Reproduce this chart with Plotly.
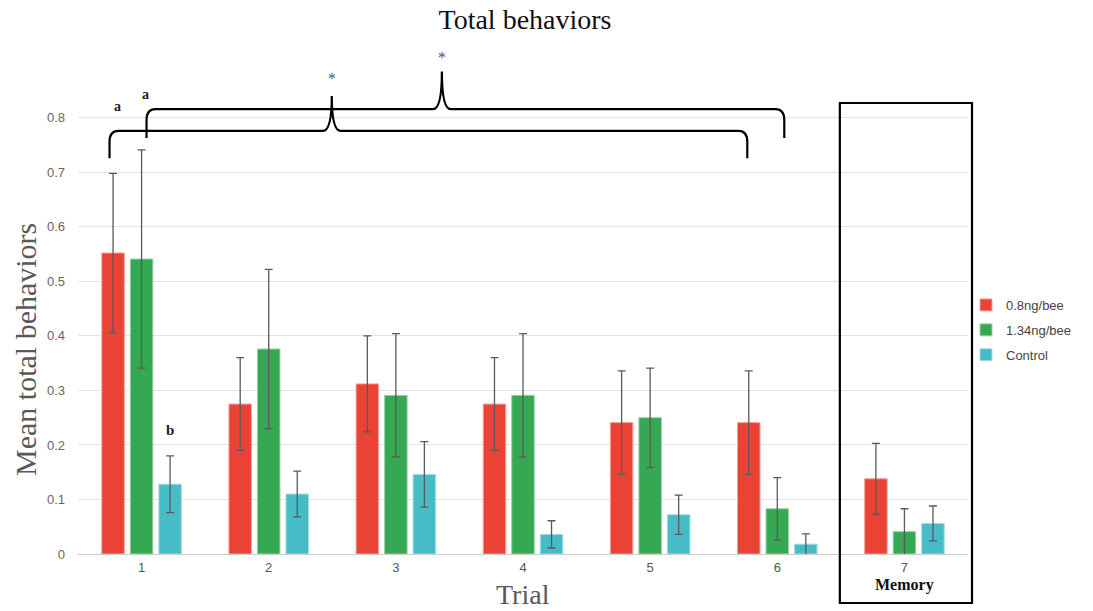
import plotly.graph_objects as go

trials = [1, 2, 3, 4, 5, 6, 7]
tick_labels = ["1", "2", "3", "4", "5", "6", "7"]
series_names = ["0.8ng/bee", "1.34ng/bee", "Control"]

low_dose = [0.552, 0.275, 0.312, 0.275, 0.241, 0.241, 0.138]
low_dose_err = [0.146, 0.085, 0.088, 0.085, 0.095, 0.095, 0.065]
high_dose = [0.541, 0.376, 0.291, 0.291, 0.250, 0.083, 0.041]
high_dose_err = [0.200, 0.146, 0.113, 0.113, 0.091, 0.057, 0.042]
control = [0.128, 0.110, 0.146, 0.036, 0.072, 0.018, 0.056]
control_err = [0.052, 0.042, 0.060, 0.025, 0.036, 0.019, 0.032]

colors = ["#EA4335", "#34A853", "#46BDC6"]
edge_colors = ["#F4A39B", "#9AD4A9", "#A3DEE3"]

SERIF = "Liberation Serif, Times New Roman, serif"
SANS = "Liberation Sans, Arial, sans-serif"

fig = go.Figure()
for i, (name, vals, errs) in enumerate(zip(series_names,
                                           [low_dose, high_dose, control],
                                           [low_dose_err, high_dose_err, control_err])):
    fig.add_trace(go.Bar(
        x=trials, y=vals, name=name, legendgroup=name,
        marker=dict(color=colors[i], line=dict(color=edge_colors[i], width=1)),
        error_y=dict(type="data", array=errs, visible=True,
                     color="#5a5a5a", thickness=1.3, width=4),
    ))


def brace(x0, x1, xp, y_end, y_h, y_peak, rx=0.07, ry=0.02):
    return (f"M {x0},{y_end} L {x0},{y_h - ry} "
            f"Q {x0},{y_h} {x0 + rx},{y_h} "
            f"L {xp - rx},{y_h} Q {xp},{y_h} {xp},{y_peak} "
            f"Q {xp},{y_h} {xp + rx},{y_h} "
            f"L {x1 - rx},{y_h} Q {x1},{y_h} {x1},{y_h - ry} "
            f"L {x1},{y_end}")


shapes = [
    dict(type="path", xref="x", yref="y",
         path=brace(0.748, 5.764, 2.496, 0.726, 0.776, 0.840),
         line=dict(color="black", width=2.2)),
    dict(type="path", xref="x", yref="y",
         path=brace(1.039, 6.055, 3.362, 0.763, 0.816, 0.885),
         line=dict(color="black", width=2.2)),
    dict(type="rect", xref="paper", yref="paper",
         x0=0.856, x1=1.0045, y0=-0.0946, y1=0.8707,
         line=dict(color="black", width=2.2)),
]

annotations = [
    dict(x=0.81, y=0.821, xref="x", yref="y", text="<b>a</b>", showarrow=False,
         font=dict(family=SERIF, size=14, color="#222")),
    dict(x=1.03, y=0.842, xref="x", yref="y", text="<b>a</b>", showarrow=False,
         font=dict(family=SERIF, size=14, color="#222")),
    dict(x=1.22, y=0.228, xref="x", yref="y", text="<b>b</b>", showarrow=False,
         font=dict(family=SERIF, size=15, color="#222")),
    dict(x=2.496, y=0.872, xref="x", yref="y", text="*", showarrow=False,
         font=dict(family=SERIF, size=16, color="#555")),
    dict(x=3.362, y=0.911, xref="x", yref="y", text="*", showarrow=False,
         font=dict(family=SERIF, size=16, color="#555")),
    dict(x=7, y=-0.0598, xref="x", yref="paper", text="<b>Memory</b>", showarrow=False,
         yanchor="middle", font=dict(family=SERIF, size=16, color="#111")),
    # axis titles
    dict(x=523 / 1093, y=1 - 594 / 611, xref="paper", yref="paper", text="Trial",
         showarrow=False, xanchor="center", yanchor="middle",
         font=dict(family=SERIF, size=28, color="#595959")),
    dict(x=25 / 1093, y=1 - 350 / 611, xref="paper", yref="paper",
         text="Mean total behaviors", textangle=-90,
         showarrow=False, xanchor="center", yanchor="middle",
         font=dict(family=SERIF, size=30, color="#595959")),
]
# convert container-based positions of the axis titles to paper coords
L, R, T, B, W, H = 78, 125, 36, 57, 1093, 611
for a in annotations[-2:]:
    px = a["x"] * W
    py = (1 - a["y"]) * H
    a["x"] = (px - L) / (W - L - R)
    a["y"] = (H - B - py) / (H - T - B)

fig.update_layout(
    width=W, height=H,
    margin=dict(l=L, r=R, t=T, b=B, autoexpand=False),
    paper_bgcolor="white", plot_bgcolor="white",
    barmode="group", bargap=0.327, bargroupgap=0.21,
    title=dict(text="Total behaviors", x=525 / W, xanchor="center",
               y=1 - 19 / H, yanchor="middle", xref="container", yref="container",
               font=dict(family=SERIF, size=28, color="#111")),
    xaxis=dict(range=[0.5, 7.5], tickmode="array", tickvals=trials, ticktext=tick_labels,
               showgrid=False, zeroline=False, showline=False, ticks="",
               ticklabelstandoff=4,
               tickfont=dict(family=SANS, size=13, color="#555")),
    yaxis=dict(range=[0, 0.95], tickmode="array",
               tickvals=[0, 0.1, 0.2, 0.3, 0.4, 0.5, 0.6, 0.7, 0.8],
               ticktext=["0", "0.1", "0.2", "0.3", "0.4", "0.5", "0.6", "0.7", "0.8"],
               showgrid=True, gridcolor="#e3e3e3", gridwidth=1,
               zeroline=True, zerolinecolor="#cccccc", zerolinewidth=1,
               ticks="", ticklabelstandoff=12,
               tickfont=dict(family=SANS, size=13, color="#666")),
    legend=dict(x=966 / W, y=1 - 290 / H, xref="container", yref="container",
                xanchor="left", yanchor="top",
                tracegroupgap=5, bgcolor="rgba(0,0,0,0)",
                font=dict(family=SANS, size=13, color="#444")),
    shapes=shapes,
    annotations=annotations,
)

fig.write_html("out.html")
